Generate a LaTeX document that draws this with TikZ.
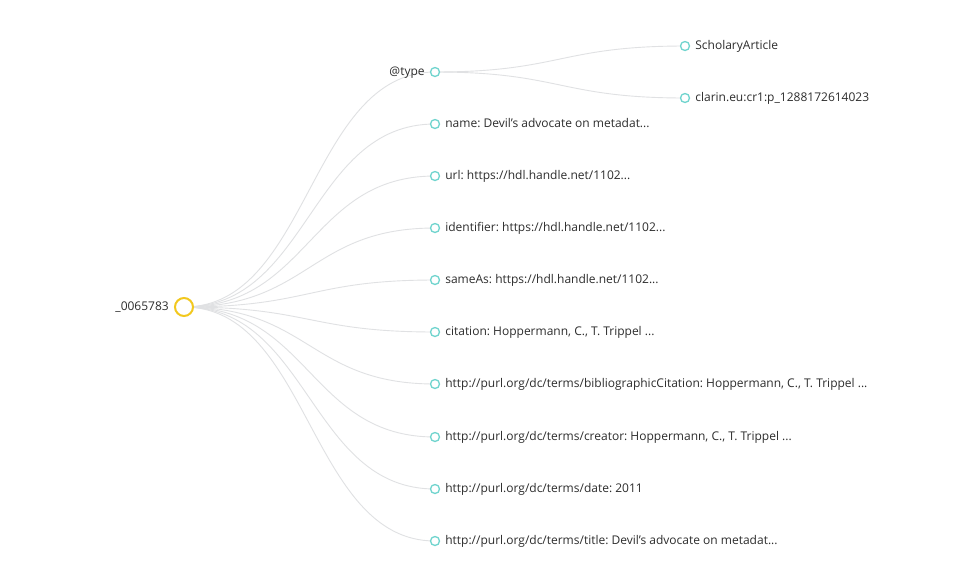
\documentclass[tikz,border=0pt]{standalone}
\usepackage{fontspec}
\setmainfont{Open Sans}
\frenchspacing
\usetikzlibrary{backgrounds}
\definecolor{rootyellow}{RGB}{242,200,30}
\definecolor{leafteal}{RGB}{112,212,206}
\definecolor{linkgray}{RGB}{224,225,227}
\definecolor{labelgray}{RGB}{45,45,45}
\tikzset{
    rootnode/.style={draw=rootyellow, line width=2pt, fill=white, circle, inner sep=0pt, minimum size=18pt},
    leafnode/.style={draw=leafteal, line width=1.3pt, fill=white, circle, inner sep=0pt, minimum size=9pt},
    txt/.style={text=labelgray, font=\fontsize{12}{14}\selectfont, inner sep=0pt, text height=1.6ex, text depth=.4ex},
    treelink/.style={draw=linkgray, line width=0.9pt},
    lab/.style={label={[txt, label distance=5pt]right:{#1}}},
    labl/.style={label={[txt, label distance=5pt]left:{#1}}}
}
\begin{document}
\begin{tikzpicture}[x=1pt, y=-1pt]
    \useasboundingbox (0,0) rectangle (954,566);

    % root and first level
    \node[rootnode, labl={\_0065783}] (root) at (184,307) {};
    \node[leafnode, labl={@type}] (k1) at (435,72) {};
    \node[leafnode, lab={name: Devil’s advocate on metadat...}] (k2) at (435,124) {};
    \node[leafnode, lab={url: https://hdl.handle.net/1102...}] (k3) at (435,176) {};
    \node[leafnode, lab={identifier: https://hdl.handle.net/1102...}] (k4) at (435,228) {};
    \node[leafnode, lab={sameAs: https://hdl.handle.net/1102...}] (k5) at (435,280) {};
    \node[leafnode, lab={citation: Hoppermann, C., T. Trippel ...}] (k6) at (435,332) {};
    \node[leafnode, lab={http://purl.org/dc/terms/bibliographicCitation: Hoppermann, C., T. Trippel ...}] (k7) at (435,384) {};
    \node[leafnode, lab={http://purl.org/dc/terms/creator: Hoppermann, C., T. Trippel ...}] (k8) at (435,437) {};
    \node[leafnode, lab={http://purl.org/dc/terms/date: 2011}] (k9) at (435,489) {};
    \node[leafnode, lab={http://purl.org/dc/terms/title: Devil’s advocate on metadat...}] (k10) at (435,541) {};

    % second level (@type)
    \node[leafnode, lab={ScholaryArticle}] (t1) at (685,46) {};
    \node[leafnode, lab={clarin.eu:cr1:p\_1288172614023}] (t2) at (685,98) {};

    \coordinate (mid1) at (309.5,0);
    \coordinate (mid2) at (560,0);

    \begin{scope}[on background layer]
        \fill[white] (0,0) rectangle (954,566);
        \foreach \k in {k1,k2,k3,k4,k5,k6,k7,k8,k9,k10}
            \draw[treelink] (root.center) .. controls (mid1 |- root) and (mid1 |- \k) .. (\k.center);
        \foreach \t in {t1,t2}
            \draw[treelink] (k1.center) .. controls (mid2 |- k1) and (mid2 |- \t) .. (\t.center);
    \end{scope}
\end{tikzpicture}
\end{document}
